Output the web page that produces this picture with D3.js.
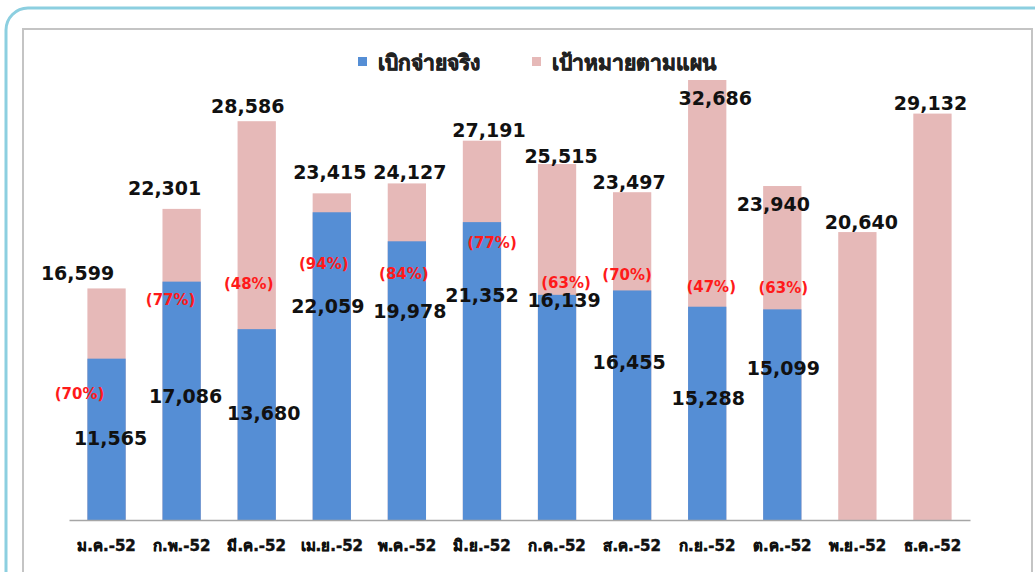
<!DOCTYPE html>
<html>
<head>
<meta charset="utf-8">
<script src="https://cdn.jsdelivr.net/npm/d3@7"></script>
<style>
  body { margin: 0; background: #fff; }
  svg { display: block; }
</style>
</head>
<body>
<div id="chart"></div>
<script>
// months (Thai, B.E. 2552)
const months = ["ม.ค.-52", "ก.พ.-52", "มี.ค.-52", "เม.ย.-52", "พ.ค.-52", "มิ.ย.-52",
                "ก.ค.-52", "ส.ค.-52", "ก.ย.-52", "ต.ค.-52", "พ.ย.-52", "ธ.ค.-52"];
// target (plan) values
const target = [16599, 22301, 28586, 23415, 24127, 27191, 25515, 23497, 32686, 23940, 20640, 29132];
// actual disbursement (null = not yet)
const actual = [11565, 17086, 13680, 22059, 19978, 21352, 16139, 16455, 15288, 15099, null, null];
// percent shown in the chart
const pct = [70, 77, 48, 94, 84, 77, 63, 70, 47, 63, null, null];

const seriesNames = ["เบิกจ่ายจริง", "เป้าหมายตามแผน"];

// hand placed label nudges (the original labels were dragged around)
const targetNudge = [[-29,-15],[-17,-21],[-9,-15],[-2,-21],[3,-11],[7,-11],[4,-8],[-3,-10],[8,18],[-9,18],[4,-10],[-2,-10]];
const actualNudge = [[4,79],[4,115],[7,84],[-4,94],[3,70],[0,73],[7,5],[-3,72],[1,91],[1,59]];
const pctNudge = [[-27,35],[-11,18],[-8,-46],[-8,51],[-3,32],[10,20],[9,-12],[-5,-16],[4,-20],[1,-22]];

const W = 1035, H = 572;
const blue = "#558ed5", pink = "#e6b9b8";
const font = "Tahoma, 'DejaVu Sans', sans-serif";

const svg = d3.select("#chart").append("svg")
    .attr("width", W).attr("height", H);

// outer rounded frame + inner grey box
svg.append("rect")
    .attr("x", 6).attr("y", 8).attr("width", W + 40).attr("height", H + 40)
    .attr("rx", 22).attr("fill", "none")
    .attr("stroke", "#8ccfe0").attr("stroke-width", 3);
svg.append("rect")
    .attr("x", 23).attr("y", 29).attr("width", 1009).attr("height", H + 20)
    .attr("fill", "none").attr("stroke", "#c4c4c4").attr("stroke-width", 2);

const x = d3.scaleBand().domain(months).range([69, 970]).paddingInner(0.49).paddingOuter(0.245);
const y = d3.scaleLinear().domain([0, 31540]).range([520, 80]).clamp(true);

const g = svg.append("g");

// target bars (behind)
g.selectAll(".tbar").data(target).enter().append("rect")
    .attr("class", "tbar")
    .attr("x", (d, i) => x(months[i]))
    .attr("width", x.bandwidth())
    .attr("y", d => y(d))
    .attr("height", d => y(0) - y(d))
    .attr("fill", pink);

// actual bars (front)
const act = actual.map((v, i) => ({ v, i })).filter(d => d.v != null);
g.selectAll(".abar").data(act).enter().append("rect")
    .attr("class", "abar")
    .attr("x", d => x(months[d.i]))
    .attr("width", x.bandwidth())
    .attr("y", d => y(d.v))
    .attr("height", d => y(0) - y(d.v))
    .attr("fill", blue);

// x axis
const xAxis = d3.axisBottom(x).tickSize(0).tickPadding(20);
const ax = svg.append("g").attr("transform", "translate(0,520)").call(xAxis);
ax.select(".domain").attr("stroke", "#a6a6a6").attr("stroke-width", 1.5);
ax.selectAll("text")
    .attr("font-family", font).attr("font-size", 15).attr("font-weight", "bold")
    .attr("fill", "#111").attr("stroke", "#111").attr("stroke-width", 0.5);

const cx = i => x(months[i]) + x.bandwidth() / 2;
const fmt = d3.format(",");

// target labels
svg.selectAll(".tlab").data(target).enter().append("text")
    .attr("class", "tlab")
    .attr("x", (d, i) => cx(i) + targetNudge[i][0])
    .attr("y", (d, i) => y(d) + targetNudge[i][1])
    .attr("dy", "0.36em")
    .attr("text-anchor", "middle")
    .attr("font-family", font).attr("font-size", 19).attr("font-weight", "bold")
    .attr("fill", "#111")
    .text(d => fmt(d));

// actual labels
svg.selectAll(".alab").data(act).enter().append("text")
    .attr("class", "alab")
    .attr("x", d => cx(d.i) + actualNudge[d.i][0])
    .attr("y", d => y(d.v) + actualNudge[d.i][1])
    .attr("dy", "0.36em")
    .attr("text-anchor", "middle")
    .attr("font-family", font).attr("font-size", 19).attr("font-weight", "bold")
    .attr("fill", "#111")
    .text(d => fmt(d.v));

// percent labels
svg.selectAll(".plab").data(act).enter().append("text")
    .attr("class", "plab")
    .attr("x", d => cx(d.i) + pctNudge[d.i][0])
    .attr("y", d => y(d.v) + pctNudge[d.i][1])
    .attr("dy", "0.36em")
    .attr("text-anchor", "middle")
    .attr("font-family", font).attr("font-size", 15).attr("font-weight", "bold")
    .attr("fill", "#ff1a1a")
    .text(d => "(" + pct[d.i] + "%)");

// legend
const legend = svg.append("g");
const legendX = [358, 532];
seriesNames.forEach((name, i) => {
    legend.append("rect")
        .attr("x", legendX[i]).attr("y", 57).attr("width", 9).attr("height", 9)
        .attr("fill", i === 0 ? blue : pink);
    legend.append("text")
        .attr("x", legendX[i] + 20).attr("y", 62).attr("dy", "0.36em")
        .attr("font-family", font).attr("font-size", 21).attr("font-weight", "bold")
        .attr("fill", "#222").attr("stroke", "#222").attr("stroke-width", 0.7)
        .text(name);
});
</script>
</body>
</html>
